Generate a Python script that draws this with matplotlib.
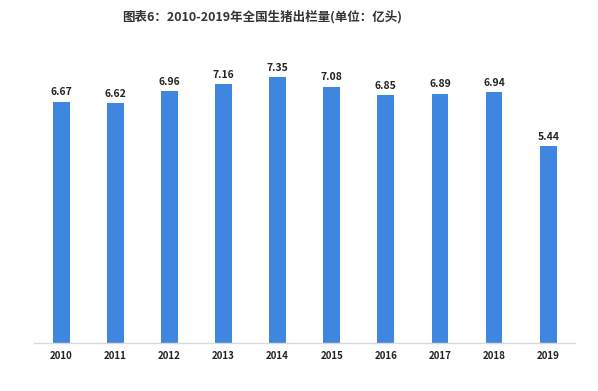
import matplotlib.pyplot as plt

plt.rcParams['font.family'] = ['Noto Sans CJK SC', 'DejaVu Sans']

years = ['2010', '2011', '2012', '2013', '2014', '2015', '2016', '2017', '2018', '2019']
hogs = [6.67, 6.62, 6.96, 7.16, 7.35, 7.08, 6.85, 6.89, 6.94, 5.44]


def main():
    fig = plt.figure(figsize=(5.98, 3.91), dpi=100)
    ax = fig.add_axes([0.057, 0.124, 0.905, 0.739])

    x = range(len(years))
    ax.bar(x, hogs, width=0.31, color='#3F86E0')
    for i, v in zip(x, hogs):
        ax.text(i, v + 0.12, f'{v:.2f}', ha='center', va='bottom',
                fontsize=7.5, fontweight='bold', color='#222222')

    ax.set_xlim(-0.5, len(years) - 0.5)
    ax.set_ylim(0, 8)
    ax.set_xticks(list(x))
    ax.set_xticklabels(years, fontsize=7, fontweight='bold', color='#222222')
    ax.tick_params(axis='x', length=0, pad=6)
    ax.set_yticks([])
    for s in ['top', 'right', 'left']:
        ax.spines[s].set_visible(False)
    ax.spines['bottom'].set_color('#D9D9D9')
    ax.spines['bottom'].set_linewidth(1)

    # title sits a bit left of centre in the original
    fig.text(0.438, 0.958, '图表6：2010-2019年全国生猪出栏量(单位：亿头)', ha='center', va='center',
             fontsize=9, fontweight='bold', color='#333333')

    fig.savefig('out.png', dpi=100)


if __name__ == '__main__':
    main()
